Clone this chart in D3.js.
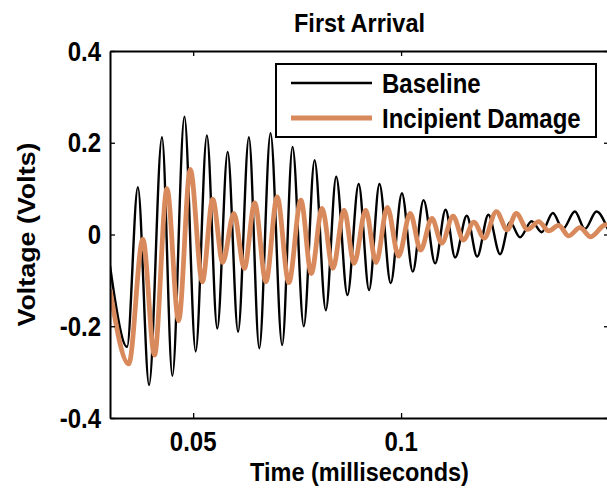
<!DOCTYPE html>
<html>
<head>
<meta charset="utf-8">
<script src="https://cdn.jsdelivr.net/npm/d3@7"></script>
<style>
  body { margin: 0; background: #fff; }
  text { font-family: "Liberation Sans", Arial, sans-serif; font-weight: bold; fill: #000; }
</style>
</head>
<body>
<div id="container"></div>
<script>
let w = 607;
let h = 490;

// peaks and troughs (time in ms, voltage in V)
let baselineTime = [0.0300, 0.0341, 0.0367, 0.0394, 0.0425, 0.0450, 0.0479, 0.0506, 0.0533, 0.0558,
  0.0583, 0.0608, 0.0634, 0.0659, 0.0686, 0.0714, 0.0739, 0.0766, 0.0792, 0.0819,
  0.0844, 0.0871, 0.0898, 0.0923, 0.0948, 0.0975, 0.1002, 0.1028, 0.1054, 0.1082,
  0.1107, 0.1130, 0.1158, 0.1183, 0.1210, 0.1238, 0.1262, 0.1286, 0.1314, 0.1338,
  0.1365, 0.1389, 0.1418, 0.1442, 0.1470, 0.1497];
let baselineVolts = [-0.068, -0.245, 0.103, -0.328, 0.212, -0.308, 0.257, -0.255, 0.216, -0.205,
  0.180, -0.212, 0.212, -0.248, 0.221, -0.241, 0.191, -0.200, 0.162, -0.165,
  0.126, -0.132, 0.110, -0.121, 0.110, -0.106, 0.090, -0.081, 0.075, -0.063,
  0.054, -0.050, 0.041, -0.048, 0.043, -0.043, 0.027, -0.006, 0.029, 0.005,
  0.047, 0.012, 0.050, 0.012, 0.050, 0.012];

let damageTime = [0.0300, 0.0345, 0.0379, 0.0407, 0.0437, 0.0465, 0.0493, 0.0522, 0.0547, 0.0571,
  0.0598, 0.0623, 0.0648, 0.0675, 0.0702, 0.0730, 0.0759, 0.0784, 0.0810, 0.0836,
  0.0863, 0.0887, 0.0915, 0.0940, 0.0967, 0.0994, 0.1022, 0.1047, 0.1074, 0.1098,
  0.1125, 0.1150, 0.1175, 0.1200, 0.1229, 0.1255, 0.1277, 0.1304, 0.1331, 0.1355,
  0.1379, 0.1403, 0.1430, 0.1456, 0.1490, 0.1500];
let damageVolts = [-0.120, -0.282, -0.010, -0.263, 0.100, -0.188, 0.142, -0.103, 0.077, -0.061,
  0.046, -0.074, 0.069, -0.103, 0.082, -0.105, 0.075, -0.085, 0.057, -0.074,
  0.053, -0.063, 0.053, -0.061, 0.059, -0.047, 0.046, -0.034, 0.035, -0.019,
  0.040, -0.012, 0.027, -0.008, 0.050, 0.010, 0.046, 0.011, 0.028, 0.008,
  0.020, -0.003, 0.015, -0.005, 0.021, 0.022];

let seriesNames = ["Baseline", "Incipient Damage"];
let seriesColors = ["#000000", "#d98a5c"];
let xTicks = [0.05, 0.1, 0.15];
let xTickLabels = ["0.05", "0.1", ""];
let yTicks = [-0.4, -0.2, 0, 0.2, 0.4];
let yTickLabels = ["-0.4", "-0.2", "0", "0.2", "0.4"];

let plotLeft = 110, plotRight = 609, plotTop = 51, plotBottom = 418;
let stretch = 1.12;

let viz = d3.select("#container")
  .append("svg")
    .attr("width", w)
    .attr("height", h)
    .style("background-color", "white")
;

let xScale = d3.scaleLinear().domain([0.03, 0.15]).range([plotLeft, plotRight]);
let yScale = d3.scaleLinear().domain([-0.4, 0.4]).range([plotBottom, plotTop]);

viz.append("clipPath").attr("id", "plotclip")
  .append("rect")
    .attr("x", plotLeft).attr("y", plotTop)
    .attr("width", plotRight - plotLeft).attr("height", plotBottom - plotTop);

function toPoints(times, volts){
  return times.map((t, i) => [t, volts[i]]);
}

let line = d3.line()
  .x(d => xScale(d[0]))
  .y(d => yScale(d[1]))
  .curve(d3.curveMonotoneX);

let traces = viz.append("g").attr("clip-path", "url(#plotclip)");

traces.append("path")
  .attr("d", line(toPoints(baselineTime, baselineVolts)))
  .attr("fill", "none")
  .attr("stroke", seriesColors[0])
  .attr("stroke-width", 2.4);

traces.append("path")
  .attr("d", line(toPoints(damageTime, damageVolts)))
  .attr("fill", "none")
  .attr("stroke", seriesColors[1])
  .attr("stroke-width", 4.8)
  .attr("stroke-linejoin", "round");

// axes box with inward ticks on all four sides
function styleAxis(g){
  g.selectAll("path").attr("stroke", "#000").attr("stroke-width", 2);
  g.selectAll("line").attr("stroke", "#000").attr("stroke-width", 1.3);
  g.selectAll("text").remove();
}

viz.append("g").attr("transform", "translate(0," + plotBottom + ")")
  .call(d3.axisBottom(xScale).tickValues(xTicks).tickSize(-5).tickSizeOuter(0)).call(styleAxis);
viz.append("g").attr("transform", "translate(0," + plotTop + ")")
  .call(d3.axisTop(xScale).tickValues(xTicks).tickSize(-5).tickSizeOuter(0)).call(styleAxis);
viz.append("g").attr("transform", "translate(" + plotLeft + ",0)")
  .call(d3.axisLeft(yScale).tickValues(yTicks).tickSize(-5).tickSizeOuter(0)).call(styleAxis);
viz.append("g").attr("transform", "translate(" + plotRight + ",0)")
  .call(d3.axisRight(yScale).tickValues(yTicks).tickSize(-5).tickSizeOuter(0)).call(styleAxis);

// tick labels (text looks slightly stretched vertically in the original)
viz.selectAll(".xlabel").data(xTicks).enter()
  .append("text")
    .classed("xlabel", true)
    .attr("transform", d => "translate(" + xScale(d) + ",451) scale(1," + stretch + ")")
    .attr("text-anchor", "middle")
    .style("font-size", "24px")
    .text((d, i) => xTickLabels[i]);

viz.selectAll(".ylabel").data(yTicks).enter()
  .append("text")
    .classed("ylabel", true)
    .attr("transform", d => "translate(" + (plotLeft - 9) + "," + yScale(d) + ") scale(1," + stretch + ")")
    .attr("text-anchor", "end")
    .attr("dy", "0.36em")
    .style("font-size", "24px")
    .text((d, i) => yTickLabels[i]);

viz.append("text")
  .attr("transform", "translate(" + (plotLeft + plotRight) / 2 + ",481) scale(1," + stretch + ")")
  .attr("text-anchor", "middle")
  .style("font-size", "23.5px")
  .text("Time (milliseconds)");

viz.append("text")
  .attr("transform", "translate(35," + (plotTop + plotBottom) / 2 + ") rotate(-90) scale(" + stretch + ",1)")
  .attr("text-anchor", "middle")
  .style("font-size", "24px")
  .text("Voltage (Volts)");

viz.append("text")
  .attr("transform", "translate(" + (plotLeft + plotRight) / 2 + ",32) scale(1," + stretch + ")")
  .attr("text-anchor", "middle")
  .style("font-size", "23.5px")
  .text("First Arrival");

// legend
let legend = viz.append("g").attr("transform", "translate(276,64)");
legend.append("rect")
  .attr("width", 320).attr("height", 73)
  .attr("fill", "white").attr("stroke", "#000").attr("stroke-width", 2);

let rows = legend.selectAll(".row").data(seriesNames).enter()
  .append("g")
    .classed("row", true)
    .attr("transform", (d, i) => "translate(0," + (19 + i * 35) + ")");

rows.append("line")
  .attr("x1", 15).attr("x2", 96)
  .attr("stroke", (d, i) => seriesColors[i])
  .attr("stroke-width", (d, i) => i == 0 ? 2.4 : 4.8);

rows.append("text")
  .attr("transform", "translate(106,0) scale(1," + stretch + ")")
  .attr("dy", "0.36em")
  .style("font-size", "24px")
  .text(d => d);
</script>
</body>
</html>
